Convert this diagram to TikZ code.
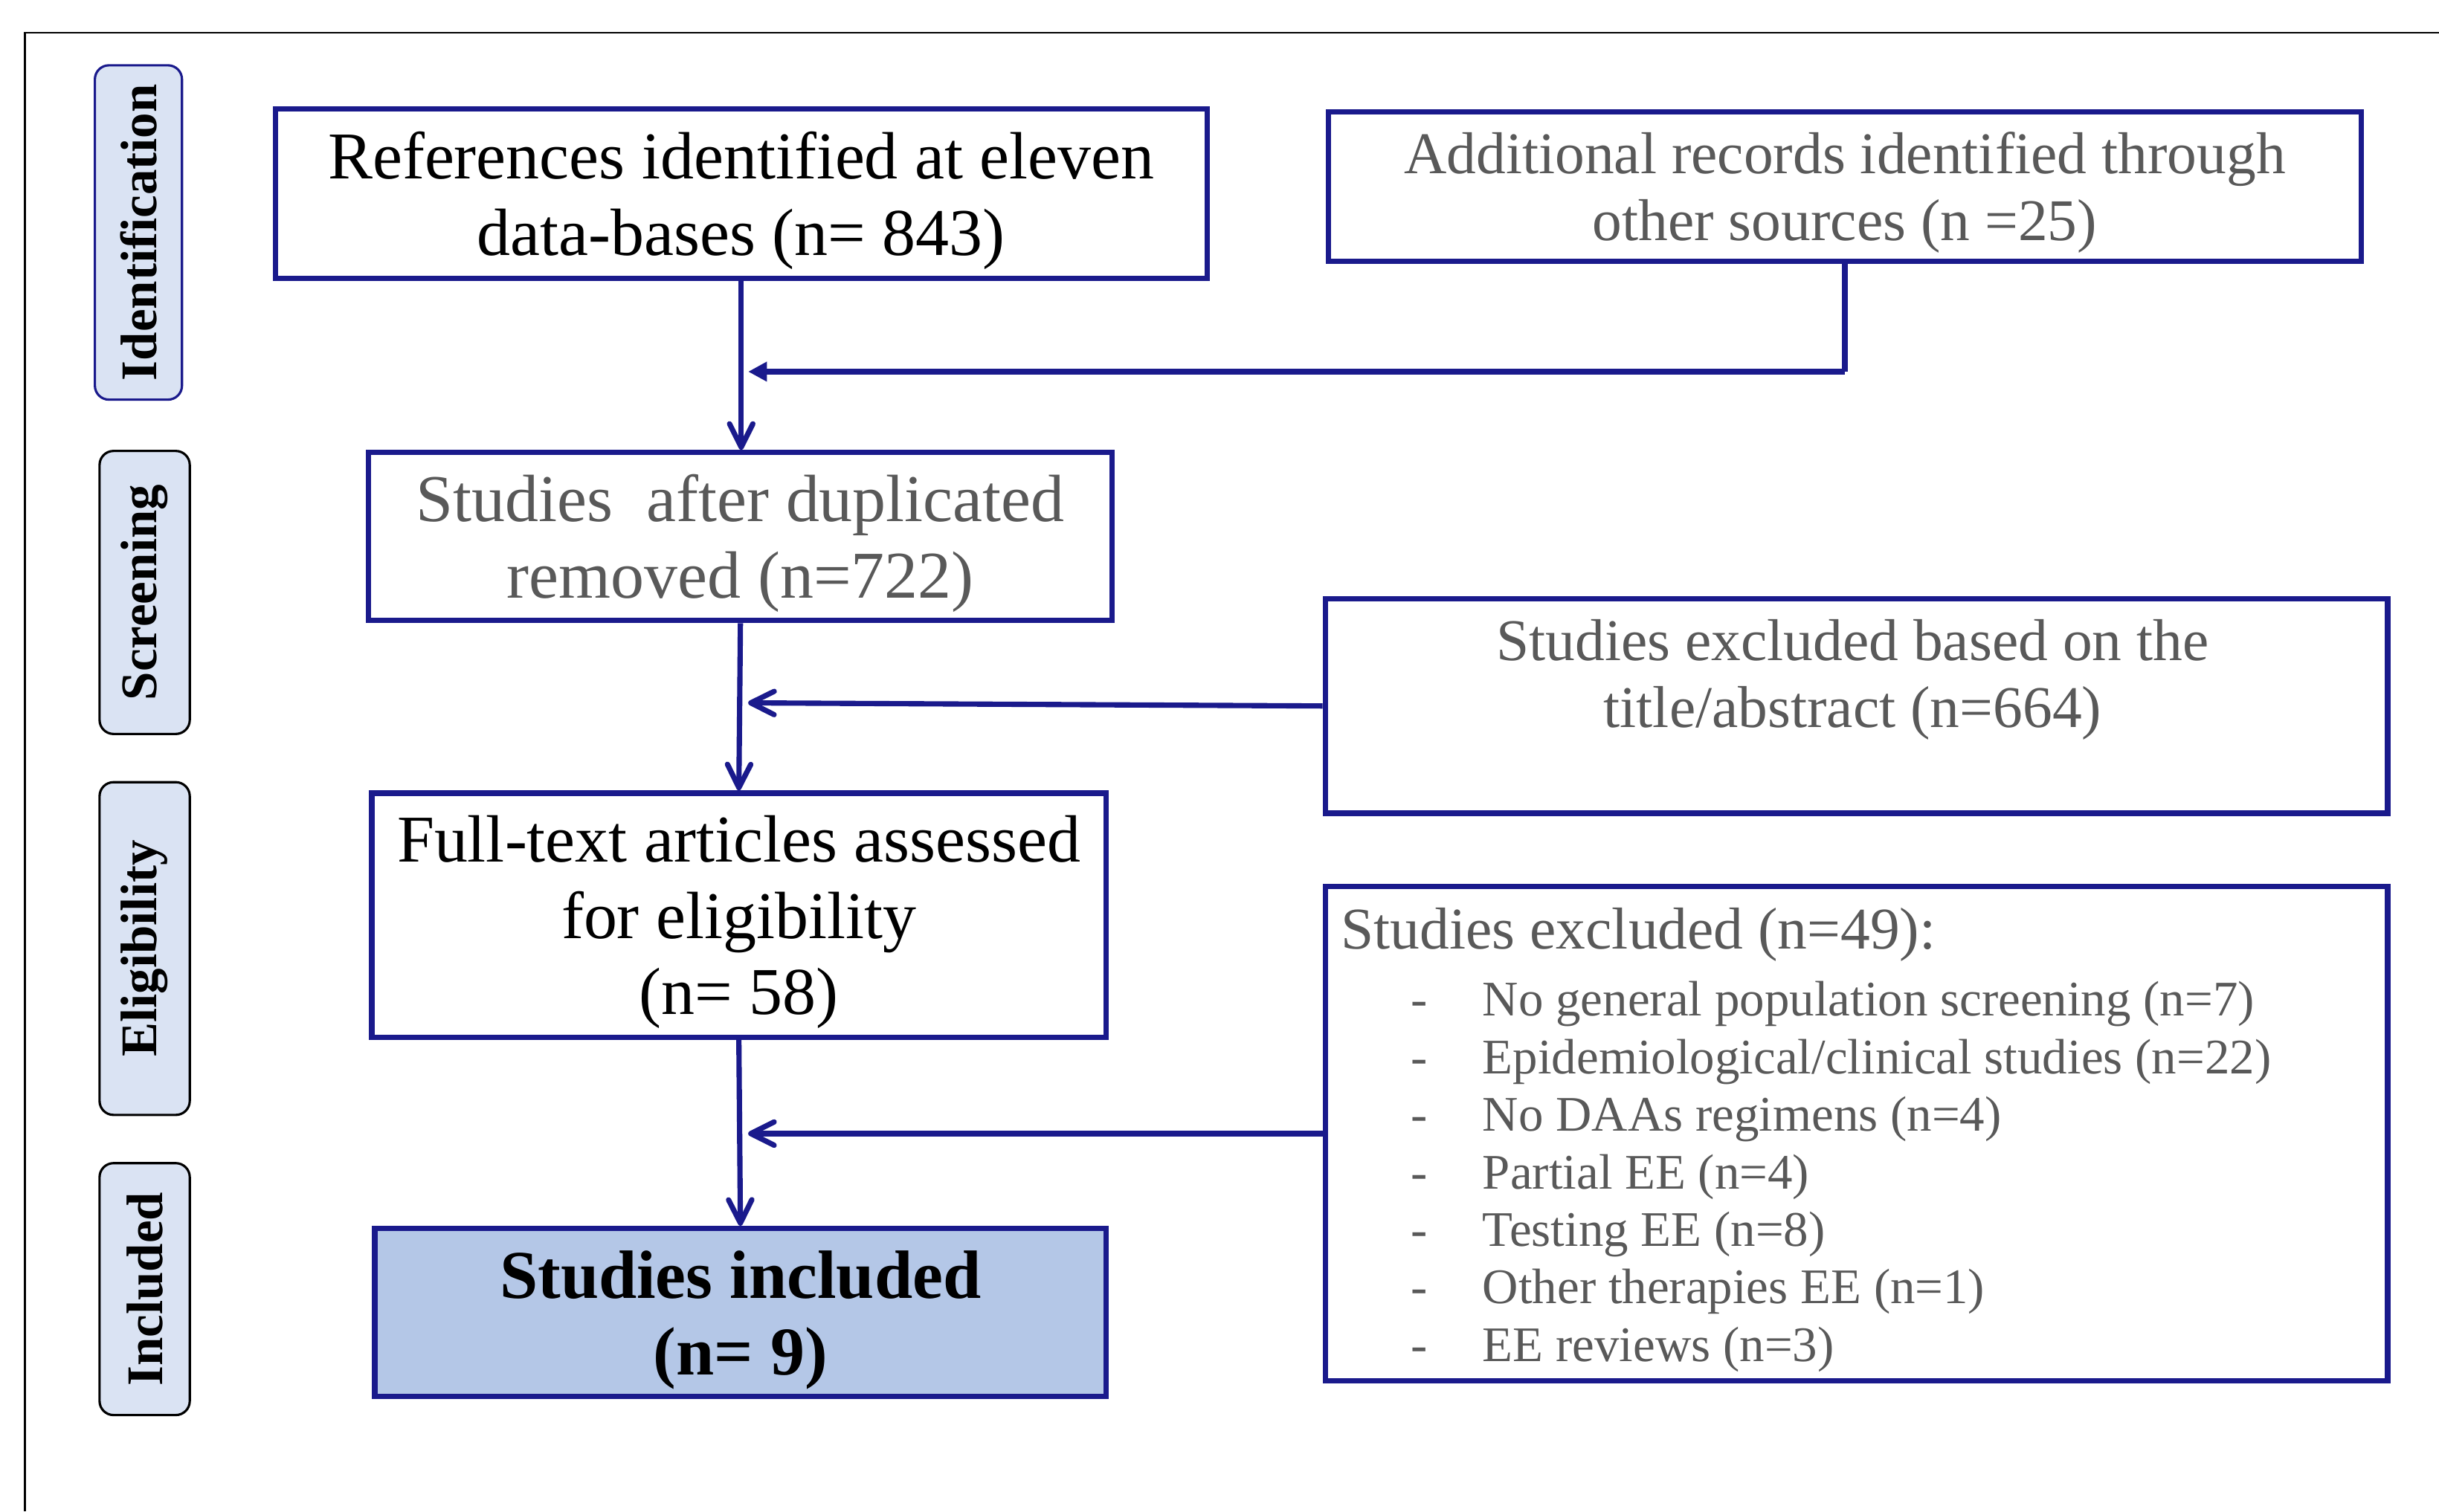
\documentclass[tikz,border=0pt]{standalone}
\usepackage{fontspec}
\setmainfont{Liberation Serif}
\usetikzlibrary{arrows.meta}
\definecolor{navy}{RGB}{26,26,140}
\definecolor{txtgray}{RGB}{89,89,89}
\definecolor{lblfill}{RGB}{218,227,243}
\definecolor{incfill}{RGB}{180,199,231}
\begin{document}
\begin{tikzpicture}[x=1pt,y=-1pt,
  box/.style={draw=navy,line width=3.5pt,rectangle,inner sep=0pt},
  txt/.style={align=center,inner sep=0pt},
  phase/.style={draw=#1,fill=lblfill,rounded corners=9pt,line width=1.5pt,rotate=90,
    inner sep=0pt,font=\bfseries\fontsize{33}{38}\selectfont},
  flow/.style={draw=navy,line width=3.4pt,-{Straight Barb[length=15pt,width=15pt,round,line width=3.4pt]}},
  flowtri/.style={draw=navy,line width=3.4pt,-{Triangle[length=12pt,width=12pt]}},
  big/.style={font=\fontsize{43}{49}\selectfont},
  mid/.style={font=\fontsize{38}{43}\selectfont},
]
\useasboundingbox (0,0) rectangle (1568,972);
\draw[line width=1pt] (16,972) -- (16,21) -- (1568,21);

% phase labels
\node[phase=navy,minimum width=215pt,minimum height=56pt] (pid) at (89,149.5) {Identification};
\node[phase=black,minimum width=182pt,minimum height=58pt] (pscr) at (93,381) {Screening};
\node[phase=black,minimum width=214pt,minimum height=58pt] (pel) at (93,610) {Eligibility};
\node[phase=black,minimum width=162pt,minimum height=58pt] (pinc) at (93,829) {Included};

% boxes
\node[box,minimum width=599pt,minimum height=109pt] (b1) at (476.5,124.5) {};
\node[txt,big] (t1) at (476.5,129) {References identified at eleven\\data-bases (n= 843)};
\node[box,minimum width=664pt,minimum height=96pt] (b2) at (1186,120) {};
\node[txt,mid,text=txtgray] (t2) at (1186,124) {Additional records identified through\\other sources (n =25)};
\node[box,minimum width=478pt,minimum height=108pt] (b3) at (476,345) {};
\node[txt,big,text=txtgray] (t3) at (476,349.5) {Studies\ \ after duplicated\\removed (n=722)};
\node[box,minimum width=683pt,minimum height=138pt] (b4) at (1193.5,454) {};
\node[txt,mid,text=txtgray] (t4) at (1191,437) {Studies excluded based on the\\title/abstract (n=664)};
\node[box,minimum width=472pt,minimum height=157pt] (b5) at (475,588.5) {};
\node[txt,big] (t5) at (475,593) {Full-text articles assessed\\for eligibility\\(n= 58)};
\node[box,minimum width=683pt,minimum height=318pt] (b6) at (1193.5,729) {};
\node[mid,text=txtgray,anchor=west,inner sep=0pt] (t6h) at (862,601) {Studies excluded (n=49):};
\node[text=txtgray,anchor=west,inner sep=0pt,font=\fontsize{32}{37}\selectfont] (t6l) at (907,757)
  {\begin{tabular}{@{}p{46pt}@{}l@{}}
  - & No general population screening (n=7)\\
  - & Epidemiological/clinical studies (n=22)\\
  - & No DAAs regimens (n=4)\\
  - & Partial EE (n=4)\\
  - & Testing EE (n=8)\\
  - & Other therapies EE (n=1)\\
  - & EE reviews (n=3)
  \end{tabular}};
\node[box,fill=incfill,minimum width=470pt,minimum height=108pt] (b7) at (476,844) {};
\node[txt,font=\bfseries\fontsize{44}{49}\selectfont] (t7) at (476,849) {Studies included\\(n= 9)};

% connectors
\coordinate (j1) at (481,239);
\coordinate (j2) at (481,452);
\coordinate (j3) at (481,729);
\draw[flow] (b1.south) -- (b1.south |- b3.north);
\draw[navy,line width=3.4pt] (b2.south) -- (b2.south |- j1);
\draw[flowtri] (b2.south |- j1) -- (j1);
\draw[flow] (b4.west) -- (j2);
\draw[flow] (b3.south) -- (b5.north);
\draw[flow] (b5.south) -- (b7.north);
\draw[flow] (b6.west) -- (j3);
\end{tikzpicture}
\end{document}
